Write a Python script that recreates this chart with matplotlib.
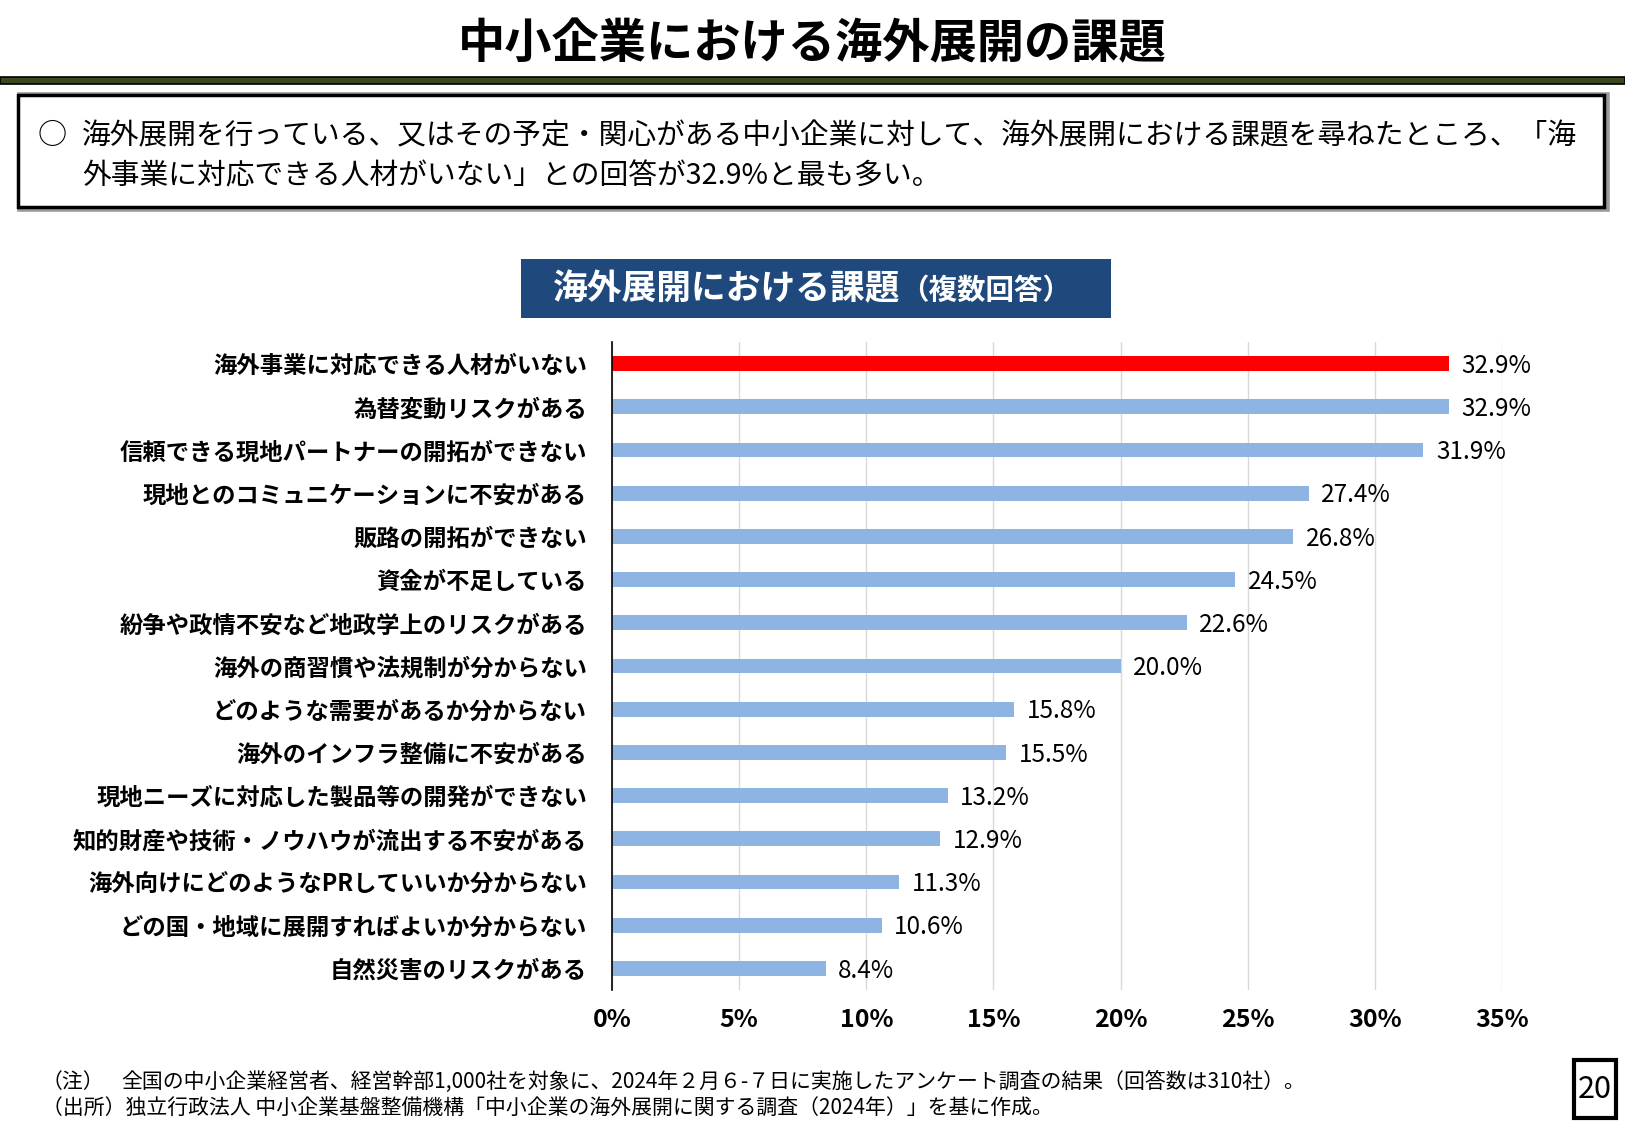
import matplotlib
matplotlib.use('Agg')
import matplotlib.pyplot as plt
from matplotlib.patches import Rectangle
import numpy as np

plt.rcParams['font.family'] = ['Noto Sans CJK JP', 'DejaVu Sans']

# data
categories = [
    '海外事業に対応できる人材がいない',
    '為替変動リスクがある',
    '信頼できる現地パートナーの開拓ができない',
    '現地とのコミュニケーションに不安がある',
    '販路の開拓ができない',
    '資金が不足している',
    '紛争や政情不安など地政学上のリスクがある',
    '海外の商習慣や法規制が分からない',
    'どのような需要があるか分からない',
    '海外のインフラ整備に不安がある',
    '現地ニーズに対応した製品等の開発ができない',
    '知的財産や技術・ノウハウが流出する不安がある',
    '海外向けにどのようなPRしていいか分からない',
    'どの国・地域に展開すればよいか分からない',
    '自然災害のリスクがある',
]
values = [32.9, 32.9, 31.9, 27.4, 26.8, 24.5, 22.6, 20.0, 15.8, 15.5, 13.2, 12.9, 11.3, 10.6, 8.4]
xticks = [0, 5, 10, 15, 20, 25, 30, 35]

W, H = 1625, 1125
fig = plt.figure(figsize=(W / 100, H / 100), dpi=100)

def fx(px):
    return px / W

def fy(py):
    return 1 - py / H

# page title
fig.text(0.5, fy(44), '中小企業における海外展開の課題', ha='center', va='center',
         fontsize=34, fontweight='bold', color='black')

# green band under title
fig.patches.append(Rectangle((0, fy(84)), 1, (84 - 77) / H, transform=fig.transFigure,
                             facecolor='#3B4A1E', edgecolor='black', linewidth=1.2))

# summary box (shadow + frame)
fig.patches.append(Rectangle((fx(20), fy(209)), fx(1607) - fx(20), (209 - 95) / H,
                             transform=fig.transFigure, facecolor='none',
                             edgecolor='#9a9a9a', linewidth=4))
fig.patches.append(Rectangle((fx(18), fy(207)), fx(1604) - fx(18), (207 - 95) / H,
                             transform=fig.transFigure, facecolor='white',
                             edgecolor='black', linewidth=2.5))
fig.text(fx(38), fy(136), '○', ha='left', va='center', fontsize=21)
fig.text(fx(82), fy(136),
         '海外展開を行っている、又はその予定・関心がある中小企業に対して、海外展開における課題を尋ねたところ、「海',
         ha='left', va='center', fontsize=20.7)
fig.text(fx(82), fy(176), '外事業に対応できる人材がいない」との回答が32.9%と最も多い。',
         ha='left', va='center', fontsize=20.7)

# chart title box
fig.patches.append(Rectangle((fx(521), fy(318)), fx(1111) - fx(521), (318 - 259) / H,
                             transform=fig.transFigure, facecolor='#1F497D', edgecolor='none'))
fig.text(fx(553), fy(289), '海外展開における課題', ha='left', va='center',
         fontsize=25, fontweight='bold', color='white')
fig.text(fx(900), fy(291), '（複数回答）', ha='left', va='center',
         fontsize=20.5, fontweight='bold', color='white')

# bar chart
ax = fig.add_axes([fx(612), fy(990), fx(1502) - fx(612), (990 - 342) / H])
y = np.arange(len(categories))
colors = ['#FF0000'] + ['#8EB4E3'] * (len(categories) - 1)
ax.barh(y, values, height=0.34, color=colors, zorder=3)
ax.set_ylim(len(categories) - 0.5, -0.5)
ax.set_xlim(0, 35)
ax.set_yticks(y)
ax.set_yticklabels(categories, fontsize=16.8, fontweight='bold')
ax.set_xticks(xticks)
ax.set_xticklabels([str(t) + '%' for t in xticks], fontsize=18, fontweight='bold')
ax.tick_params(axis='y', length=0, pad=18)
ax.tick_params(axis='x', length=0, pad=13)
ax.grid(axis='x', color='#d9d9d9', linewidth=1, zorder=0)
for s in ['top', 'right', 'bottom']:
    ax.spines[s].set_visible(False)
ax.spines['left'].set_color('black')
ax.spines['left'].set_linewidth(1.2)
ax.spines['left'].set_zorder(4)

for i, v in enumerate(values):
    ax.text(v + 0.5, i + 0.05, '%.1f%%' % v, ha='left', va='center', fontsize=17.5, zorder=5)

# footnotes
fig.text(fx(42), fy(1082), '（注）', ha='left', va='center', fontsize=15)
fig.text(fx(121), fy(1082),
         '全国の中小企業経営者、経営幹部1,000社を対象に、2024年２月６-７日に実施したアンケート調査の結果（回答数は310社）。',
         ha='left', va='center', fontsize=15)
fig.text(fx(42), fy(1108),
         '（出所）独立行政法人 中小企業基盤整備機構「中小企業の海外展開に関する調査（2024年）」を基に作成。',
         ha='left', va='center', fontsize=15)

# page number
fig.patches.append(Rectangle((fx(1574), fy(1118)), fx(1616) - fx(1574), (1118 - 1060) / H,
                             transform=fig.transFigure, facecolor='white',
                             edgecolor='black', linewidth=3))
fig.text(fx(1595), fy(1090), '20', ha='center', va='center', fontsize=22)

fig.savefig('out.png', dpi=100)
